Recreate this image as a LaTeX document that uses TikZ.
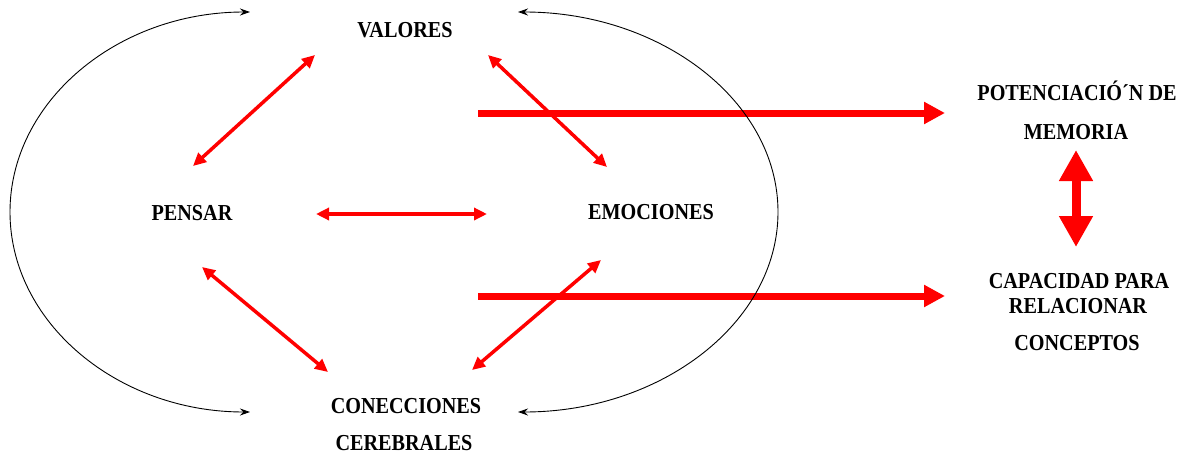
\documentclass[tikz,border=0pt]{standalone}
\usepackage{fontspec}
\usepackage{graphicx}
\setmainfont{Liberation Serif}
\usetikzlibrary{arrows.meta}
\newcommand{\stx}[1]{\scalebox{1}[1.13]{#1}}
\begin{document}
\begin{tikzpicture}[x=1pt,y=-1pt,
  lbl/.style={font=\bfseries\fontsize{20.2}{24}\selectfont, inner sep=0pt, anchor=center},
  redlink/.style={draw=red, line width=3.5pt, {Triangle[length=13pt,width=12pt]}-{Triangle[length=13pt,width=12pt]}},
  bigarrow/.style={draw=red, line width=7pt, -{Triangle[length=21pt,width=21pt]}},
  vbig/.style={draw=red, line width=9pt, {Triangle[length=31pt,width=32pt]}-{Triangle[length=31pt,width=32pt]}},
  loop/.style={draw=black, line width=0.9pt, {Stealth[length=10pt,width=7pt]}-{Stealth[length=10pt,width=7pt]}}
]
\useasboundingbox (0,0) rectangle (1185,455);
% labels
\node[lbl] (val) at (405,30.5) {\stx{VALORES}};
\node[lbl] (pen) at (192,213.5) {\stx{PENSAR}};
\node[lbl] (emo) at (651,212) {\stx{EMOCIONES}};
\node[lbl] (con1) at (406,406) {\stx{CONECCIONES}};
\node[lbl] (con2) at (404,443) {\stx{CEREBRALES}};
\node[lbl] (pot1) at (1077,91) {\stx{POTENCIACIÓ´N DE}};
\node[lbl] (pot2) at (1076,132) {\stx{MEMORIA}};
\node[lbl] (cap1) at (1079,281) {\stx{CAPACIDAD PARA}};
\node[lbl] (cap2) at (1078,306) {\stx{RELACIONAR}};
\node[lbl] (cap3) at (1077,343) {\stx{CONCEPTOS}};
% coordinates
\coordinate (a1) at (315,55);  \coordinate (a2) at (193,166);
\coordinate (b1) at (488,55);  \coordinate (b2) at (607,167);
\coordinate (c1) at (316,214); \coordinate (c2) at (487,214);
\coordinate (d1) at (202,267); \coordinate (d2) at (328,372);
\coordinate (e1) at (601,260); \coordinate (e2) at (472,370);
\coordinate (f1) at (478,113); \coordinate (f2) at (945,113);
\coordinate (g1) at (478,296); \coordinate (g2) at (945,296);
\coordinate (h1) at (1076,150); \coordinate (h2) at (1076,247);
\coordinate (lt) at (250,12);
\coordinate (rt) at (518,12);
% red links
\draw[redlink] (a1) -- (a2);
\draw[redlink] (b1) -- (b2);
\draw[redlink] (c1) -- (c2);
\draw[redlink] (d1) -- (d2);
\draw[redlink] (e1) -- (e2);
\draw[bigarrow] (f1) -- (f2);
\draw[bigarrow] (g1) -- (g2);
\draw[vbig] (h1) -- (h2);
% black loops
\draw[loop] (lt) arc[start angle=270, end angle=90, x radius=240, y radius=200];
\draw[loop] (rt) arc[start angle=270, end angle=450, x radius=260, y radius=200];
\end{tikzpicture}
\end{document}
